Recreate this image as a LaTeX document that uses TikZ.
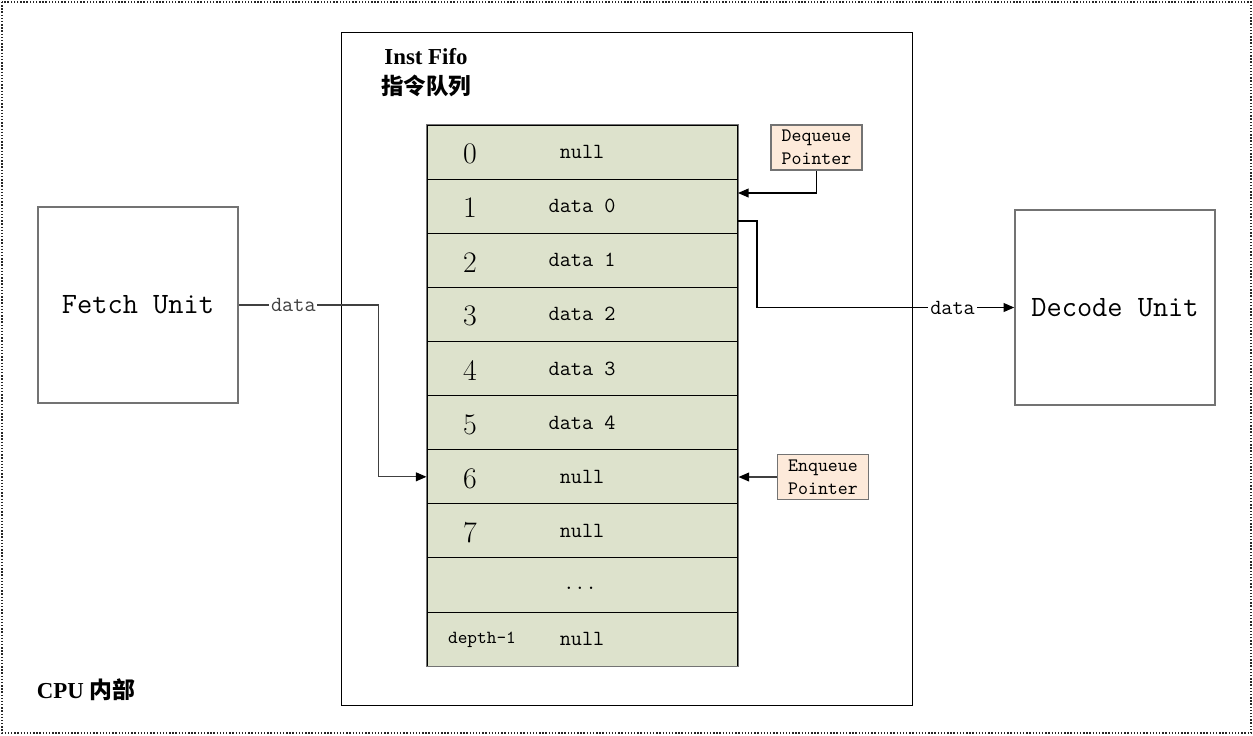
\documentclass[tikz,border=0pt]{standalone}
\usepackage{fontspec}
\newfontfamily\cjk{Noto Sans CJK SC}
\newfontfamily\tnr{Liberation Serif}
\usetikzlibrary{positioning,arrows.meta}
\definecolor{cellgreen}{RGB}{221,226,204}
\definecolor{ptrfill}{RGB}{253,234,218}
\begin{document}
\begin{tikzpicture}[x=0.02cm, y=-0.02cm,
	unit/.style={draw=black!55, line width=0.9pt, minimum width=4cm, minimum height=3.92cm, font=\ttfamily\fontsize{16.8}{19}\selectfont},
	cell/.style={draw=black, line width=0.6pt, fill=cellgreen, minimum width=6.22cm, minimum height=1.082cm, inner sep=0pt},
	idx/.style={font=\fontsize{17}{19}\selectfont},
	val/.style={font=\ttfamily\fontsize{12.3}{14}\selectfont},
	ptr/.style={draw=black!55, line width=0.9pt, fill=ptrfill, minimum width=1.82cm, minimum height=0.9cm, inner sep=1pt, align=center, font=\ttfamily\fontsize{10.8}{13}\selectfont},
	conn/.style={black!75, line width=0.7pt, -{Triangle[length=6pt,width=5pt,fill=black,color=black]}},
	lbl/.style={fill=white, inner sep=1pt, font=\ttfamily\fontsize{12.3}{14}\selectfont},
	heading/.style={font=\tnr\bfseries\fontsize{13}{15}\selectfont}]
	
	% Rahmen
	\useasboundingbox (0,0) rectangle (1253,735);
	\draw[densely dotted, line width=0.8pt, black!85] (2,2) rectangle (1251,733);
	\node[heading] (cpu) at (86,690) {CPU {\cjk 内部}};
	
	% FIFO
	\node[draw, line width=0.6pt, minimum width=11.44cm, minimum height=13.48cm] (fifo) at (627,369) {};
	\node[heading] (title) at (426,57) {Inst Fifo};
	\node[font=\cjk\bfseries\fontsize{12.8}{15}\selectfont] (titlecn) at (426,86) {指令队列};
	
	% Zeilen
	\foreach \n/\v [count=\i from 0] in {0/null, 1/data 0, 2/data 1, 3/data 2, 4/data 3, 5/data 4, 6/null, 7/null, /, /null}
	{
		\node[cell] (r\i) at (582.5, 152.2+54.1*\i) {};
		\node[idx] (i\i) at (470, 154+54.1*\i) {\n};
		\node[val] (v\i) at (582, 152+54.1*\i) {\v};
	}
	\node[val] (dots) at (580,588) {...};
	\node[font=\ttfamily\fontsize{10.5}{12}\selectfont] (depth) at (482,640) {depth-1};
	\draw[black!55, line width=0.9pt] (r0.north west) rectangle (r9.south east);
	
	% Zeiger
	\node[ptr] (deq) at (816.5,147.5) {Dequeue\\Pointer};
	\node[ptr] (enq) at (823,477) {Enqueue\\Pointer};
	\coordinate (deqin) at (738,193);
	\draw[conn, black] (deq.south) |- (deqin);
	\draw[conn] (enq.west) -- (enq.west -| r6.east);
	
	% Einheiten
	\node[unit] (fetch) at (138,305) {Fetch Unit};
	\node[unit, minimum height=3.9cm] (dec) at (1115,307.5) {Decode Unit};
	\draw[conn] (fetch.east) -- node[lbl, pos=0.39] (din) {data} ++(140,0) |- (r6.west);
	\coordinate (deqout) at (738,221);
	\draw[conn, black] (deqout) -- ++(19,0) |- node[lbl, pos=0.88] (dout) {data} (dec.west);
	
\end{tikzpicture}
\end{document}
